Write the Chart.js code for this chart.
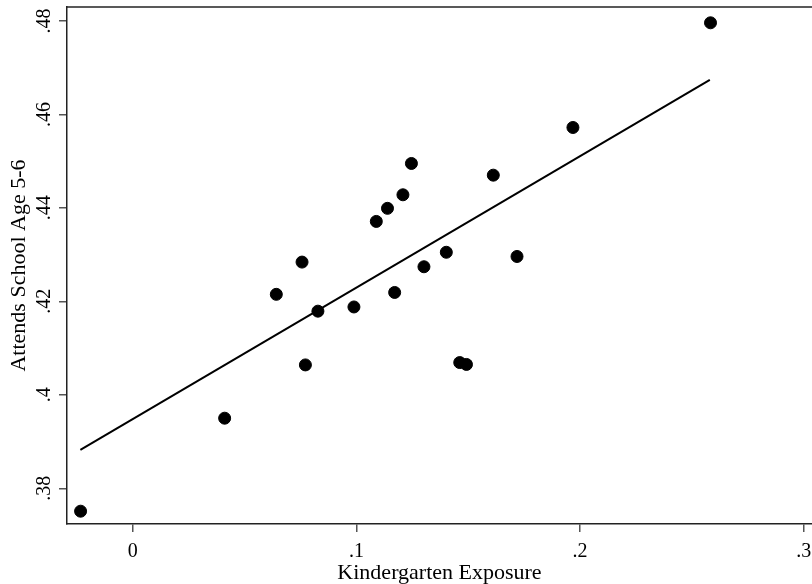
<!DOCTYPE html>
<html>
<head>
<meta charset="utf-8">
<script src="https://cdn.jsdelivr.net/npm/chart.js@4.4.1/dist/chart.umd.min.js"></script>
<style>
  html, body { margin: 0; padding: 0; background: #fff; overflow: hidden; }
  #c { display: block; }
</style>
</head>
<body>
<canvas id="c" width="812" height="584"></canvas>
<script>
// ---- data ----
const kindergartenExposure = [-0.0233, 0.0411, 0.0642, 0.0757, 0.0772, 0.0828, 0.0989, 0.1089, 0.1139, 0.1171,
                              0.1208, 0.1246, 0.1302, 0.1402, 0.1462, 0.1492, 0.1612, 0.1718, 0.1968, 0.2583];
const attendsSchool = [0.3751, 0.3950, 0.4215, 0.4284, 0.4064, 0.4179, 0.4188, 0.4371, 0.4399, 0.4219,
                       0.4428, 0.4495, 0.4274, 0.4305, 0.4069, 0.4065, 0.4470, 0.4296, 0.4572, 0.4796];
const fitX = [-0.0234, 0.2580];
const fitY = [0.3882, 0.4674];

const xTickValues = [0, 0.1, 0.2, 0.3];
const xTickLabels = ['0', '.1', '.2', '.3'];
const yTickValues = [0.38, 0.40, 0.42, 0.44, 0.46, 0.48];
const yTickLabels = ['.38', '.4', '.42', '.44', '.46', '.48'];

const xTitle = 'Kindergarten Exposure';
const yTitle = 'Attends School Age 5-6';

const xMin = -0.02937, xMax = 0.30367;
const yMin = 0.37236, yMax = 0.48298;

const SERIF = '"Liberation Serif", "Times New Roman", serif';

const scatterPoints = kindergartenExposure.map((x, i) => ({ x: x, y: attendsSchool[i] }));
const fitPoints = fitX.map((x, i) => ({ x: x, y: fitY[i] }));

const frame = {
  id: 'frame',
  afterDraw(chart) {
    const { ctx, chartArea, scales } = chart;
    ctx.save();
    // top border
    ctx.strokeStyle = '#222';
    ctx.lineWidth = 1.5;
    ctx.beginPath();
    ctx.moveTo(chartArea.left, chartArea.top);
    ctx.lineTo(chartArea.right, chartArea.top);
    ctx.stroke();
    ctx.fillStyle = '#000';
    ctx.font = '20px ' + SERIF;
    ctx.textAlign = 'center';
    ctx.textBaseline = 'middle';
    // x tick labels
    xTickValues.forEach((v, i) => {
      ctx.fillText(xTickLabels[i], scales.x.getPixelForValue(v), 552);
    });
    // rotated y tick labels
    yTickValues.forEach((v, i) => {
      const py = scales.y.getPixelForValue(v);
      ctx.save();
      ctx.translate(44.5, py);
      ctx.rotate(-Math.PI / 2);
      ctx.fillText(yTickLabels[i], 0, 0);
      ctx.restore();
    });
    ctx.restore();
  }
};

new Chart(document.getElementById('c'), {
  type: 'scatter',
  data: {
    datasets: [
      {
        type: 'line',
        data: fitPoints,
        borderColor: '#000',
        borderWidth: 2,
        pointRadius: 0,
        fill: false,
        tension: 0
      },
      {
        type: 'scatter',
        data: scatterPoints,
        backgroundColor: '#000',
        borderColor: '#000',
        pointRadius: 6,
        pointHoverRadius: 6
      }
    ]
  },
  options: {
    responsive: false,
    animation: false,
    devicePixelRatio: 1,
    layout: { autoPadding: false, padding: { top: 7, right: 0, left: 0, bottom: 0 } },
    plugins: { legend: { display: false }, tooltip: { enabled: false } },
    scales: {
      x: {
        type: 'linear',
        position: 'bottom',
        min: xMin,
        max: xMax,
        afterBuildTicks: s => { s.ticks = xTickValues.map(v => ({ value: v })); },
        afterFit: s => { s.height = 60; },
        grid: { display: true, drawOnChartArea: false, drawTicks: true, tickLength: 8, color: '#555', lineWidth: 1.5 },
        border: { display: true, color: '#222', width: 1.5 },
        ticks: { display: false },
        title: {
          display: true,
          text: xTitle,
          color: '#000',
          font: { family: SERIF, size: 22, lineHeight: 1.0 },
          padding: { top: 0, bottom: 0 }
        }
      },
      y: {
        type: 'linear',
        min: yMin,
        max: yMax,
        afterBuildTicks: s => { s.ticks = yTickValues.map(v => ({ value: v })); },
        afterFit: s => { s.width = 67; },
        grid: { display: true, drawOnChartArea: false, drawTicks: true, tickLength: 8, color: '#555', lineWidth: 1.5 },
        border: { display: true, color: '#222', width: 1.5 },
        ticks: { display: false },
        title: {
          display: true,
          text: yTitle,
          color: '#000',
          font: { family: SERIF, size: 22, lineHeight: 1.0 },
          padding: { top: 8, bottom: 0 }
        }
      }
    }
  },
  plugins: [frame]
});
</script>
</body>
</html>
